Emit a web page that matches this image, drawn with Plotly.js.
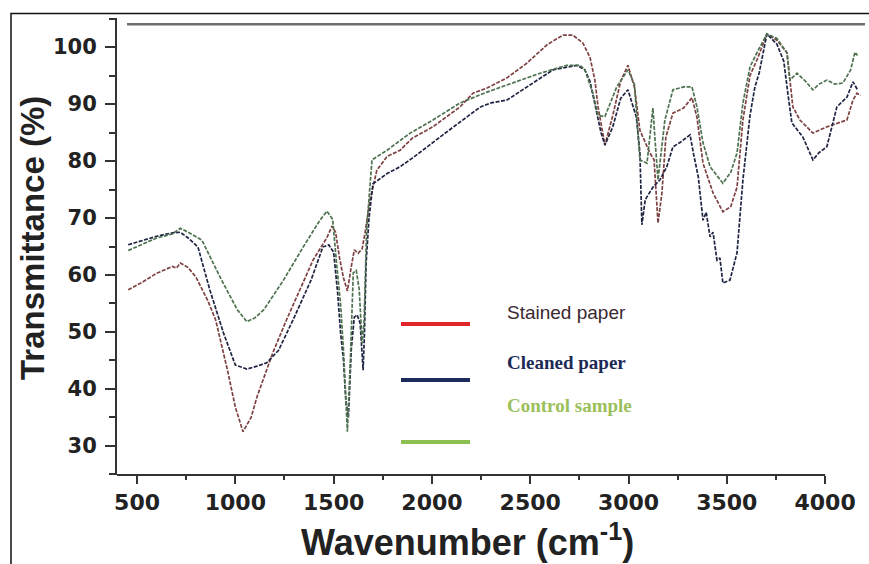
<!DOCTYPE html>
<html>
<head>
<meta charset="utf-8">
<script src="https://cdn.plot.ly/plotly-3.0.1.min.js"></script>
<style>html,body{margin:0;padding:0;background:#fff;}#chart{width:869px;height:564px;}</style>
</head>
<body>
<div id="chart"></div>
<script>
// Series names
const seriesNames = ["Stained paper", "Cleaned paper", "Control sample"];

// Stained paper (wavenumber, transmittance)
const stainedX = [455,520,600,680,700,720,760,800,860,900,960,1000,1039,1080,1110,1190,1260,1330,1395,1465,1492,1510,1530,1550,1570,1590,1605,1625,1645,1660,1685,1720,1772,1838,1900,2005,2143,2209,2280,2382,2484,2585,2667,2717,2768,2804,2829,2845,2880,2920,2960,2997,3030,3058,3109,3130,3150,3170,3190,3226,3280,3323,3348,3379,3430,3480,3520,3552,3582,3618,3653,3704,3755,3806,3836,3872,3938,4009,4075,4111,4142,4162,4180];
const stainedY = [57.4,58.6,60.3,61.5,61.2,62.1,61.3,59.6,55.5,52.1,43.3,36.8,32.5,35,38.6,46.3,52.1,57.4,62.6,66.5,68.6,67.5,63,59.5,57.2,61.5,64.4,63.8,64.6,67.4,73.2,78.4,80.8,81.9,84,86.0,89.5,91.9,92.8,94.6,97.2,100.4,102.1,102.1,100.7,98.2,94.2,89.5,82.8,88,94,96.8,93,85.4,81.4,80.2,69.1,74.4,84.2,88.4,89.3,91.1,87.7,79.6,74.4,71.1,72.0,75.4,87.2,95,97.7,102.3,101.2,99,89.5,87.2,84.9,86,86.7,87.2,90.7,91.9,91.5];

// Cleaned paper
const cleanedX = [455,520,600,680,720,760,810,870,940,1000,1059,1110,1160,1220,1300,1385,1445,1475,1500,1520,1535,1550,1562,1575,1590,1605,1620,1635,1650,1657,1665,1680,1700,1772,1838,1900,1975,2110,2247,2300,2382,2500,2616,2738,2778,2804,2829,2860,2880,2920,2960,2997,3040,3058,3068,3085,3124,3160,3195,3226,3260,3313,3330,3355,3379,3395,3415,3430,3450,3465,3480,3516,3552,3582,3618,3643,3665,3704,3755,3790,3810,3831,3887,3938,3970,4009,4060,4111,4142,4165];
const cleanedY = [65.3,66.0,66.8,67.4,67.5,66.5,64.9,57.4,49.8,44.2,43.5,44.0,44.6,46.8,52.6,59.1,64.9,65.3,64,57,50,45,38,35,47,52.6,53,51.5,43.3,50,62,70,76,77.8,79,80.5,82.5,86,89.5,90.2,90.7,93.3,96,96.8,96,94,90,85,82.8,86,91,92.5,87.7,81.4,68.8,73.2,75.4,76.7,79,82.5,83.2,84.6,81.4,77.2,69.6,71,66.7,67.5,62.6,63,58.6,59.1,63.9,76.7,88,93,95.5,102.3,100.5,97.5,92,86.7,84.2,80.2,81.5,82.5,89.5,91.2,93.9,92.5];

// Control sample
const controlX = [455,520,600,680,720,760,830,930,1010,1059,1100,1145,1245,1345,1430,1466,1495,1515,1535,1550,1563,1570,1585,1600,1615,1630,1645,1655,1668,1695,1772,1889,2005,2143,2280,2412,2550,2687,2753,2778,2819,2845,2880,2940,2997,3030,3058,3094,3124,3135,3150,3185,3226,3280,3323,3348,3379,3415,3450,3480,3520,3552,3582,3618,3653,3704,3755,3806,3821,3857,3900,3938,3970,4009,4050,4091,4130,4142,4152,4165];
const controlY = [64.3,65.3,66.5,67.2,68.2,67.5,66.1,59.1,53.9,51.8,52.5,53.9,59.1,64.9,69.6,71.2,69.8,62,55,47,36,32.5,45,60.4,60.8,57.5,48,52,68,80.2,81.9,84.9,87.2,90.2,92.1,93.7,95.4,96.8,96.8,96,91.9,88,87.8,93,96,93.5,80.2,79.6,89.3,83.7,76.7,87.2,92.5,93,93,89.5,83.2,79,77.5,76.1,78,81.4,90.2,96.5,99,102.3,101.5,99,94.2,95.4,94,92.5,93.5,94.2,93.5,93.7,96,97.7,99.1,98.5];

// Axis ticks
const xTickVals = [500,1000,1500,2000,2500,3000,3500,4000];
const yTickVals = [30,40,50,60,70,80,90,100];

const lineColors = ["#7e4242", "#1f2442", "#4e7250"];
const legendColors = ["#e0262a", "#1c2a5c", "#8cc152"];

const traces = [
  {x: stainedX, y: stainedY}, {x: cleanedX, y: cleanedY}, {x: controlX, y: controlY}
].map((d, i) => ({
  type: "scatter", mode: "lines", x: d.x, y: d.y, name: seriesNames[i],
  line: {color: lineColors[i], width: 1.7, dash: "4px,1.5px"}, showlegend: false
}));

// px helpers for layout (plot area 117..865 x, 18..475 y)
const L = 117, R = 865, T = 18, B = 475;
const px = v => (v - L) / (R - L);
const py = v => (B - v) / (B - T);

const legendLineY = [324, 380, 442];
const legendTextY = [312, 362, 405];
const legendFonts = [
  {family: "Liberation Sans, Arial, sans-serif", size: 19, color: "#3a2830"},
  {family: "Liberation Serif, Times New Roman, serif", size: 19, color: "#1c2a55", weight: "bold"},
  {family: "Liberation Serif, Times New Roman, serif", size: 19, color: "#9bbf5a", weight: "bold"}
];

const shapes = [
  // outer frame (left & top visible)
  {type: "rect", xref: "paper", yref: "paper", x0: px(11), x1: px(900), y0: py(13.5), y1: py(600), line: {color: "#111", width: 1.5}, fillcolor: "rgba(0,0,0,0)", layer: "below"},
  // top gray line
  {type: "line", xref: "x", yref: "y", x0: 449, x1: 4203, y0: 104, y1: 104, line: {color: "#6e6e6e", width: 2.5}},
  // x axis line ending at 4000
  {type: "line", xref: "x", yref: "paper", x0: 398, x1: 4000, y0: 0, y1: 0, line: {color: "#333", width: 2}}
];
legendLineY.forEach((yy, i) => {
  shapes.push({type: "line", xref: "paper", yref: "paper", x0: px(401), x1: px(470), y0: py(yy), y1: py(yy), line: {color: legendColors[i], width: 4}});
});

const annotations = seriesNames.map((n, i) => ({
  xref: "paper", yref: "paper", x: px(505), y: py(legendTextY[i]), xanchor: "left", yanchor: "middle",
  text: n, showarrow: false, font: legendFonts[i]
}));
annotations.push({
  xref: "paper", yref: "paper", x: px(33), y: py(238), xanchor: "center", yanchor: "middle", textangle: -90,
  text: "Transmittance (%)", showarrow: false,
  font: {family: "Liberation Sans, Arial, sans-serif", size: 33, color: "#222", weight: "bold"}
});
annotations.push({
  xref: "paper", yref: "paper", x: px(467), y: py(540), xanchor: "center", yanchor: "middle",
  text: "Wavenumber (cm<sup>-1</sup>)", showarrow: false,
  font: {family: "Liberation Sans, Arial, sans-serif", size: 36, color: "#222", weight: "bold"}
});

const tickFont = {family: "DejaVu Sans, sans-serif", size: 21, color: "#222", weight: "bold"};

const layout = {
  width: 869, height: 564,
  margin: {l: L, r: 869 - R, t: T, b: 564 - B},
  paper_bgcolor: "#fff", plot_bgcolor: "#fff",
  showlegend: false,
  xaxis: {
    range: [398, 4203], tickvals: xTickVals, ticktext: xTickVals.map(String),
    showgrid: false, zeroline: false, showline: false,
    ticks: "outside", ticklen: 8, tickwidth: 2, tickcolor: "#333",
    minor: {dtick: 250, tick0: 0, ticks: "outside", ticklen: 4, tickwidth: 2, tickcolor: "#333", showgrid: false},
    tickfont: Object.assign({}, tickFont, {size: 22}), ticklabelstandoff: 0
  },
  yaxis: {
    range: [24.9, 105.1], tickvals: yTickVals, ticktext: yTickVals.map(String),
    showgrid: false, zeroline: false, showline: true, linecolor: "#333", linewidth: 2,
    ticks: "outside", ticklen: 10, tickwidth: 2, tickcolor: "#333",
    minor: {dtick: 5, tick0: 0, ticks: "outside", ticklen: 6, tickwidth: 2, tickcolor: "#333", showgrid: false},
    tickfont: tickFont, ticklabelstandoff: 4
  },
  shapes: shapes,
  annotations: annotations
};

Plotly.newPlot("chart", traces, layout, {staticPlot: true, displayModeBar: false});
</script>
</body>
</html>
